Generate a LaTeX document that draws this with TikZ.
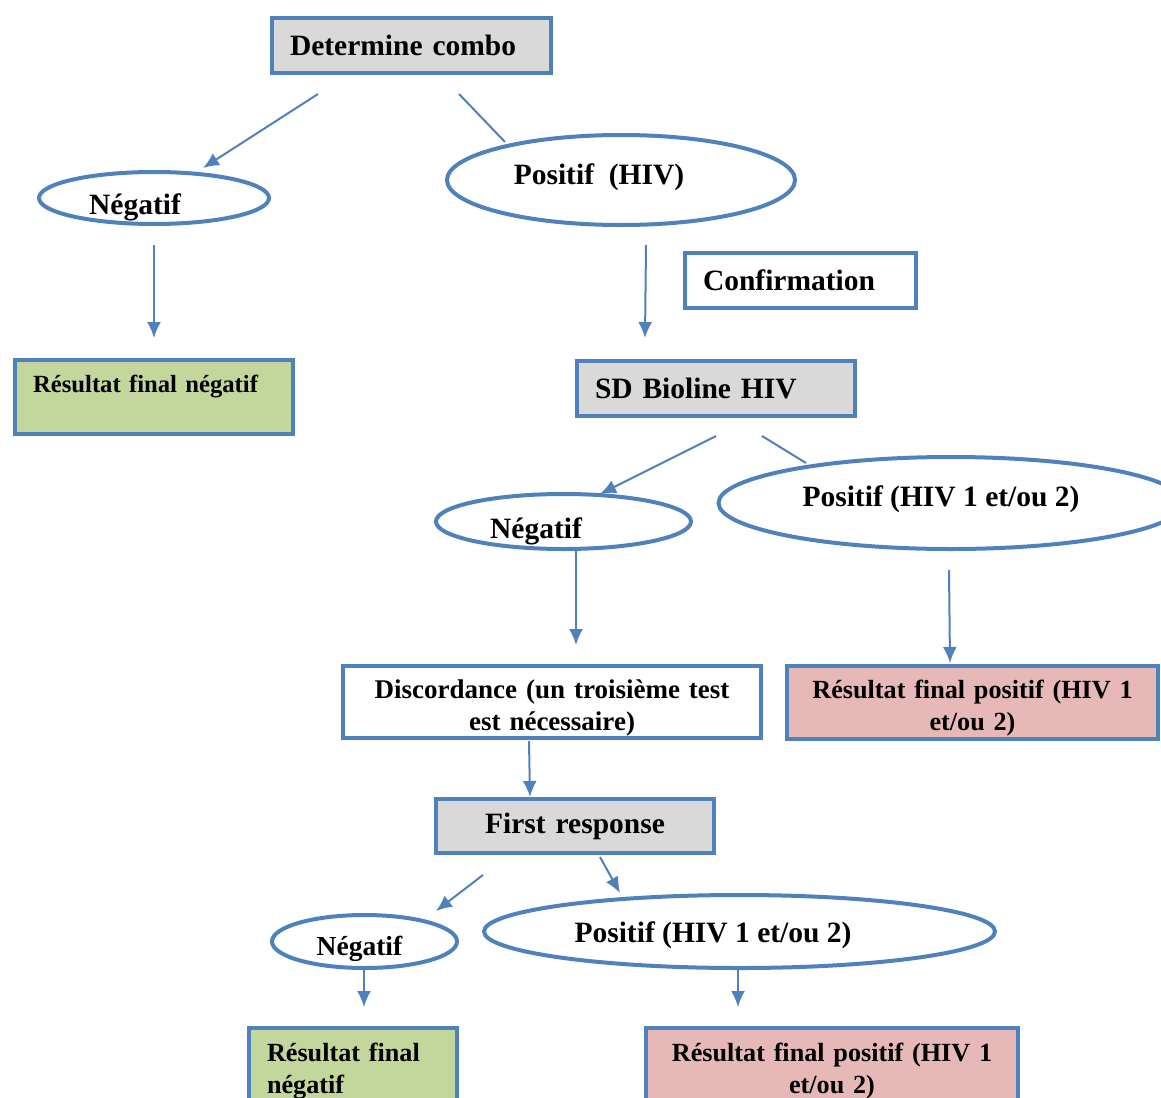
\documentclass[tikz,border=0pt]{standalone}
\usepackage{fontspec}
\setmainfont{Liberation Serif}
\usetikzlibrary{arrows.meta}
\usetikzlibrary{shapes.geometric}

\definecolor{frameblue}{RGB}{79,129,189}
\definecolor{testgray}{RGB}{217,217,217}
\definecolor{neggreen}{RGB}{195,214,155}
\definecolor{pospink}{RGB}{230,185,184}

\begin{document}
\begin{tikzpicture}[x=1pt,y=-1pt,
  box/.style={draw=frameblue, line width=4pt, inner ysep=0pt, inner xsep=18pt, align=left},
  cbox/.style={draw=frameblue, line width=4pt, inner ysep=0pt, inner xsep=10pt, align=center},
  oval/.style={draw=frameblue, line width=4pt, ellipse, inner sep=0pt},
  big/.style={font=\bfseries\fontsize{29.5}{33}\selectfont},
  mid/.style={font=\bfseries\fontsize{26.2}{32}\selectfont},
  word/.style={big, inner sep=0pt, anchor=base},
  arr/.style={frameblue, line width=2pt, -{Latex[length=16pt,width=14pt]}},
  link/.style={frameblue, line width=2pt}]
\clip (0,0) rectangle (1161,1097);

\node[box, big, fill=testgray, text width=243pt, minimum height=55pt] (det) at (411.5,45.5) {Determine combo};

\node[oval, minimum width=230pt, minimum height=52pt] (neg1) at (154,198) {};
\node[word] (neg1t) at (135,214) {Négatif};
\node[oval, minimum width=348pt, minimum height=90pt] (pos1) at (621,180) {};
\node[word] (pos1t) at (599,184) {Positif\ \ (HIV)};

\node[box, fill=neggreen, text width=242pt, minimum height=74pt, text depth=27pt,
  font=\bfseries\fontsize{24.7}{30}\selectfont] (res1) at (154,397) {Résultat final négatif};
\node[box, big, text width=195pt, minimum height=55pt] (conf) at (800.5,280.5) {Confirmation};
\node[box, big, fill=testgray, text width=242pt, minimum height=55pt] (sd) at (716,388.5) {SD Bioline HIV};

\node[oval, minimum width=255pt, minimum height=55pt] (neg2) at (563.5,521.5) {};
\node[word] (neg2t) at (536,538) {Négatif};
\node[oval, minimum width=465pt, minimum height=92pt] (pos2) at (951,503) {};
\node[word] (pos2t) at (941,506) {Positif (HIV 1 et/ou 2)};

\node[cbox, text width=398pt, minimum height=72pt, text height=30pt,
  font=\bfseries\fontsize{27}{32}\selectfont] (disc) at (552,702) {Discordance (un troisième test\\ est nécessaire)};
\node[cbox, mid, fill=pospink, text width=351pt, minimum height=73pt, text height=30pt] (pos1r) at (972.5,702.5) {Résultat final positif (HIV 1\\ et/ou 2)};

\node[cbox, big, fill=testgray, text width=258pt, minimum height=54pt] (first) at (575,826) {First response};

\node[oval, minimum width=185pt, minimum height=53pt] (neg3) at (364.5,941.5) {};
\node[word, font=\bfseries\fontsize{27.5}{33}\selectfont] (neg3t) at (359.5,955) {Négatif};
\node[oval, minimum width=511pt, minimum height=73pt] (pos3) at (739.5,931.5) {};
\node[word] (pos3t) at (713,942) {Positif (HIV 1 et/ou 2)};

\node[box, mid, fill=neggreen, text width=172pt, minimum height=86pt] (res3) at (353,1071) {Résultat final\\ négatif};
\node[cbox, mid, fill=pospink, text width=352pt, minimum height=86pt] (pos3r) at (832,1071) {Résultat final positif (HIV 1\\ et/ou 2)};

\draw[arr] ([shift={(-93.5,19)}]det.south) -- ([shift={(49,-2)}]neg1.north);
\draw[link] ([shift={(47.5,19)}]det.south) -- ([shift={(-116,9)}]pos1.north);
\draw[arr] ([shift={(0,19)}]neg1.south) -- ([shift={(0,-20)}]res1.north);
\draw[arr] ([shift={(25,18)}]pos1.south) -- ([shift={(-71,-21)}]sd.north);
\draw[arr] ([shift={(0,18)}]sd.south) -- ([shift={(36.5,2)}]neg2.north);
\draw[link] ([shift={(46,18)}]sd.south) -- ([shift={(-145,8)}]pos2.north);
\draw[arr] ([shift={(12.5,0)}]neg2.south) -- ([shift={(24,-19)}]disc.north);
\draw[arr] ([shift={(-2,19)}]pos2.south) -- ([shift={(-22.5,-1)}]pos1r.north);
\draw[arr] ([shift={(-23,1)}]disc.south) -- ([shift={(-45,0)}]first.north);
\draw[arr] ([shift={(-92,20)}]first.south) -- ([shift={(71.5,-2)}]neg3.north);
\draw[arr] ([shift={(25,2)}]first.south) -- ([shift={(-119.5,0)}]pos3.north);
\draw[arr] ([shift={(-0.5,0)}]neg3.south) -- ([shift={(11,-19)}]res3.north);
\draw[arr] ([shift={(-1.5,0)}]pos3.south) -- ([shift={(-94,-19)}]pos3r.north);
\end{tikzpicture}
\end{document}
